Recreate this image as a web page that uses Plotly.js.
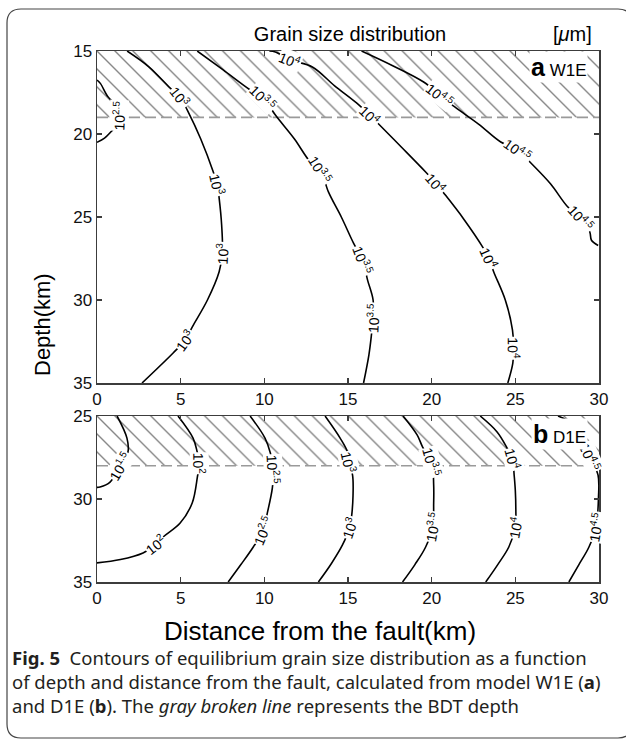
<!DOCTYPE html>
<html>
<head>
<meta charset="utf-8">
<script src="https://cdn.plot.ly/plotly-3.0.1.min.js"></script>
<style>html,body{margin:0;padding:0;background:#fff;}#chart{width:626px;height:740px;}</style>
</head>
<body>
<div id="chart"></div>
<script>
// ---------------- data ----------------
const distanceTicks = [0, 5, 10, 15, 20, 25, 30];
const depthTicksA = [15, 20, 25, 30, 35];
const depthTicksB = [25, 30, 35];
const distanceRange = [0, 30];
const depthRangeA = [15, 35];
const depthRangeB = [25, 35];
const bdtDepthA = 19;
const bdtDepthB = 28;

// Panel a (W1E): contour lines, log10 grain size levels
const a25_x = [0, 0.2, 0.65, 1.2, 1.3, 1.15, 0.85, 0.45, 0];
const a25_d = [16.75, 16.95, 17.75, 18.35, 18.9, 19.5, 19.85, 20.25, 20.5];
const a25_lab = [4];
const a30_x = [1.8, 3.1, 4.37, 4.97, 5.39, 6.2, 6.95, 7.19, 7.3, 7.45, 7.49, 7.3, 6.6, 5.69, 5.27, 4.55, 2.69];
const a30_d = [15.0, 15.95, 17.23, 17.77, 18.55, 20.3, 22.29, 23.07, 23.86, 25.5, 27.17, 28.3, 30.0, 31.63, 32.41, 33.19, 35.0];
const a30_lab = [3, 7, 10, 14];
const a35_x = [5.99, 7.54, 9.16, 9.94, 10.66, 11.8, 12.75, 13.35, 13.83, 14.6, 15.33, 15.87, 16.17, 16.5, 16.5, 16.4, 16.25, 15.93];
const a35_d = [15.0, 16.14, 17.35, 17.83, 18.86, 20.3, 21.69, 22.17, 23.49, 25.0, 26.57, 27.59, 28.8, 30.0, 31.08, 32.11, 33.3, 35.0];
const a35_lab = [3, 7, 11, 14];
const a40_x = [10.3, 10.66, 11.56, 12.87, 14.2, 15.51, 16.29, 16.77, 18.2, 19.64, 20.24, 20.72, 21.9, 23.05, 23.41, 23.71, 24.4, 24.83, 24.9, 24.85, 24.55];
const a40_d = [15.0, 15.06, 15.54, 15.96, 17.1, 18.13, 18.86, 19.34, 20.8, 22.29, 22.95, 23.55, 25.1, 26.81, 27.47, 28.31, 30.0, 31.81, 32.89, 33.8, 35.0];
const a40_lab = [2, 6, 10, 14, 18];
const a45_x = [15.81, 17.7, 19.52, 20.48, 21.38, 22.8, 24.13, 25.15, 25.93, 27.1, 28.14, 28.92, 29.45, 29.55, 29.95];
const a45_d = [15.0, 15.9, 16.87, 17.65, 18.37, 19.4, 20.48, 20.96, 21.75, 23.0, 24.4, 25.06, 25.9, 26.4, 26.72];
const a45_lab = [3, 7, 11];

// Panel b (D1E)
const b15_x = [1.2, 1.79, 1.85, 1.38, 0.78, 0.18, 0];
const b15_d = [25.0, 26.33, 27.17, 28.01, 28.98, 29.28, 29.3];
const b15_lab = [3];
const b20_x = [4.84, 5.74, 5.99, 6.11, 6.0, 5.69, 4.97, 3.95, 3.47, 2.75, 1.4, 0];
const b20_d = [25.0, 26.33, 27.17, 27.83, 28.67, 30.24, 31.45, 32.29, 32.77, 33.25, 33.65, 33.85];
const b20_lab = [3, 8];
const b25_x = [9.15, 10.04, 10.36, 10.54, 10.48, 10.18, 9.94, 9.34, 8.6, 7.84];
const b25_d = [25.0, 26.33, 27.23, 28.25, 29.33, 30.84, 31.87, 32.89, 33.95, 35.0];
const b25_lab = [3, 6];
const b30_x = [13.63, 14.53, 14.97, 15.03, 15.27, 15.3, 15.21, 15.09, 14.67, 14.0, 13.23];
const b30_d = [25.0, 26.33, 27.17, 27.77, 28.55, 29.8, 31.08, 31.75, 32.77, 33.9, 35.0];
const b30_lab = [3, 7];
const b35_x = [18.29, 19.13, 19.46, 20.0, 20.12, 20.12, 20.06, 19.64, 19.0, 18.26];
const b35_d = [25.0, 26.14, 26.87, 27.77, 29.16, 30.24, 31.69, 32.89, 33.95, 35.0];
const b35_lab = [3, 6];
const b40_x = [22.9, 23.91, 24.51, 24.85, 24.92, 25.0, 25.03, 25.0, 24.61, 23.95, 23.23];
const b40_d = [25.0, 25.96, 26.93, 27.59, 28.43, 29.5, 30.66, 31.69, 32.89, 33.95, 35.0];
const b40_lab = [3, 7];
const b45_x = [27.55, 28.32, 29.0, 29.46, 29.94, 29.97, 29.82, 29.4, 28.8, 28.2];
const b45_d = [25.0, 25.42, 26.4, 27.47, 28.55, 29.88, 31.69, 32.89, 33.95, 35.0];
const b45_lab = [3, 6];

const levelsA = [2.5, 3, 3.5, 4, 4.5];
const levelsB = [1.5, 2, 2.5, 3, 3.5, 4, 4.5];

// ---------------- layout geometry ----------------
const W = 626, H = 740;
const ML = 97, MR = 27, MT = 51, MB = 158;
const plotW = W - ML - MR, plotH = H - MT - MB;
const X = px => (px - ML) / plotW;           // pixel -> paper x
const Y = py => (H - MB - py) / plotH;       // pixel -> paper y
const domA = [Y(383), 1];
const domB = [0, Y(416)];
const kx = plotW / (distanceRange[1] - distanceRange[0]);
const kyA = (domA[1] - domA[0]) * plotH / (depthRangeA[1] - depthRangeA[0]);
const kyB = (domB[1] - domB[0]) * plotH / (depthRangeB[1] - depthRangeB[0]);

const contoursA = [
  {lv: levelsA[0], x: a25_x, d: a25_d, lab: a25_lab},
  {lv: levelsA[1], x: a30_x, d: a30_d, lab: a30_lab},
  {lv: levelsA[2], x: a35_x, d: a35_d, lab: a35_lab},
  {lv: levelsA[3], x: a40_x, d: a40_d, lab: a40_lab},
  {lv: levelsA[4], x: a45_x, d: a45_d, lab: a45_lab}
];
const contoursB = [
  {lv: levelsB[0], x: b15_x, d: b15_d, lab: b15_lab},
  {lv: levelsB[1], x: b20_x, d: b20_d, lab: b20_lab},
  {lv: levelsB[2], x: b25_x, d: b25_d, lab: b25_lab},
  {lv: levelsB[3], x: b30_x, d: b30_d, lab: b30_lab},
  {lv: levelsB[4], x: b35_x, d: b35_d, lab: b35_lab},
  {lv: levelsB[5], x: b40_x, d: b40_d, lab: b40_lab},
  {lv: levelsB[6], x: b45_x, d: b45_d, lab: b45_lab}
];

const traces = [];
const annotations = [];
const FONT = '"Liberation Sans", Arial, Helvetica, sans-serif';

function hatch(xa, ya, top, bdt) {
  const x0 = distanceRange[0], x1 = distanceRange[1];
  traces.push({
    type: 'scatter', mode: 'lines', xaxis: xa, yaxis: ya,
    x: [x0, x1, x1, x0, x0], y: [top, top, bdt, bdt, top],
    fill: 'toself', fillcolor: 'rgba(255,255,255,0)',
    fillpattern: {shape: '\\', size: 12.7, solidity: 0.11, fgcolor: '#858585', bgcolor: 'rgba(255,255,255,0)'},
    line: {width: 0, color: 'rgba(0,0,0,0)'}, hoverinfo: 'skip', showlegend: false
  });
  traces.push({
    type: 'scatter', mode: 'lines', xaxis: xa, yaxis: ya,
    x: [x0, x1], y: [bdt, bdt],
    line: {color: '#9a9a9a', width: 1.6, dash: '11px,5px'},
    hoverinfo: 'skip', showlegend: false
  });
}

function addContours(list, xa, ya, ky) {
  list.forEach(c => {
    traces.push({
      type: 'scatter', mode: 'lines', xaxis: xa, yaxis: ya,
      x: c.x, y: c.d,
      line: {color: '#000', width: 1.6, shape: 'spline', smoothing: 1},
      hoverinfo: 'skip', showlegend: false, cliponaxis: true
    });
    c.lab.forEach(i => {
      const i0 = Math.max(0, i - 1), i1 = Math.min(c.x.length - 1, i + 1);
      const dxp = (c.x[i1] - c.x[i0]) * kx;
      const dyp = (c.d[i1] - c.d[i0]) * ky;
      let ang = Math.atan2(dyp, dxp) * 180 / Math.PI;
      if (ang > 90) ang -= 180;
      if (ang < -90) ang += 180;
      annotations.push({
        xref: xa, yref: ya, x: c.x[i], y: c.d[i],
        text: '10<sup>' + c.lv + '</sup>', showarrow: false,
        textangle: ang, bgcolor: '#fff', borderpad: 0,
        font: {family: FONT, size: 14, color: '#000'}
      });
    });
  });
}

hatch('x', 'y', depthRangeA[0], bdtDepthA);
hatch('x2', 'y2', depthRangeB[0], bdtDepthB);
addContours(contoursA, 'x', 'y', kyA);
addContours(contoursB, 'x2', 'y2', kyB);

// panel tags
annotations.push({
  xref: 'paper', yref: 'paper', x: X(588), y: Y(67), xanchor: 'right', yanchor: 'middle',
  text: '<b><span style="font-size:25px">a</span></b> W1E', showarrow: false,
  bgcolor: '#fff', borderpad: 1, font: {family: FONT, size: 17, color: '#000'}
});
annotations.push({
  xref: 'paper', yref: 'paper', x: X(588), y: Y(434), xanchor: 'right', yanchor: 'middle',
  text: '<b><span style="font-size:25px">b</span></b> D1E', showarrow: false,
  bgcolor: '#fff', borderpad: 1, font: {family: FONT, size: 17, color: '#000'}
});
// unit
annotations.push({
  xref: 'paper', yref: 'paper', x: X(594), y: Y(34), xanchor: 'right', yanchor: 'middle',
  text: '[<i>μ</i>m]', showarrow: false, font: {family: FONT, size: 20, color: '#000'}
});
// axis titles
annotations.push({
  xref: 'paper', yref: 'paper', x: X(42), y: Y(325), xanchor: 'center', yanchor: 'middle',
  text: 'Depth(km)', textangle: -90, showarrow: false, font: {family: FONT, size: 22, color: '#000'}
});
annotations.push({
  xref: 'paper', yref: 'paper', x: X(320), y: Y(631), xanchor: 'center', yanchor: 'middle',
  text: 'Distance from the fault(km)', showarrow: false, font: {family: FONT, size: 26, color: '#000'}
});
// caption
annotations.push({
  xref: 'paper', yref: 'paper', x: X(10), y: Y(681), xanchor: 'left', yanchor: 'middle', align: 'left',
  text: '<b>Fig. 5</b>\u00A0\u00A0Contours of equilibrium grain size distribution as a function<br>' +
        'of depth and distance from the fault, calculated from model W1E (<b>a</b>)<br>' +
        'and D1E (<b>b</b>). The <i>gray broken line</i> represents the BDT depth',
  showarrow: false, font: {family: '"Noto Sans", "Open Sans", sans-serif', size: 18.5, color: '#231f20'}
});

// rounded frame
const fl = 7, fr = 632, ft = 9, fb = 738, rr = 14;
const framePath = [
  'M', X(fl + rr), Y(ft), 'L', X(fr - rr), Y(ft), 'Q', X(fr), Y(ft), X(fr), Y(ft + rr),
  'L', X(fr), Y(fb - rr), 'Q', X(fr), Y(fb), X(fr - rr), Y(fb),
  'L', X(fl + rr), Y(fb), 'Q', X(fl), Y(fb), X(fl), Y(fb - rr),
  'L', X(fl), Y(ft + rr), 'Q', X(fl), Y(ft), X(fl + rr), Y(ft), 'Z'
].join(' ');

const axisCommon = {
  showline: true, linecolor: '#3c3c3c', linewidth: 1.5, mirror: 'ticks',
  ticks: 'inside', ticklen: 5, tickwidth: 1.2, tickcolor: '#3c3c3c',
  showgrid: false, zeroline: false, fixedrange: true,
  tickfont: {family: FONT, size: 17, color: '#111'}
};

const layout = {
  width: W, height: H,
  margin: {l: ML, r: MR, t: MT, b: MB, pad: 0},
  paper_bgcolor: '#fff', plot_bgcolor: '#fff',
  showlegend: false,
  font: {family: FONT},
  title: {text: 'Grain size distribution', x: X(350), xref: 'paper', xanchor: 'center',
          y: 1 - 34 / H, yref: 'container', yanchor: 'middle',
          font: {family: FONT, size: 20, color: '#000'}},
  xaxis: Object.assign({}, axisCommon, {domain: [0, 1], anchor: 'y', range: distanceRange, tickvals: distanceTicks}),
  yaxis: Object.assign({}, axisCommon, {domain: domA, anchor: 'x', range: [depthRangeA[1], depthRangeA[0]], tickvals: depthTicksA}),
  xaxis2: Object.assign({}, axisCommon, {domain: [0, 1], anchor: 'y2', range: distanceRange, tickvals: distanceTicks}),
  yaxis2: Object.assign({}, axisCommon, {domain: domB, anchor: 'x2', range: [depthRangeB[1], depthRangeB[0]], tickvals: depthTicksB}),
  annotations: annotations,
  shapes: [{type: 'path', xref: 'paper', yref: 'paper', path: framePath,
            line: {color: '#444', width: 1.2}, fillcolor: 'rgba(0,0,0,0)', layer: 'below'}]
};

Plotly.newPlot('chart', traces, layout, {displayModeBar: false, staticPlot: true});
</script>
</body>
</html>
